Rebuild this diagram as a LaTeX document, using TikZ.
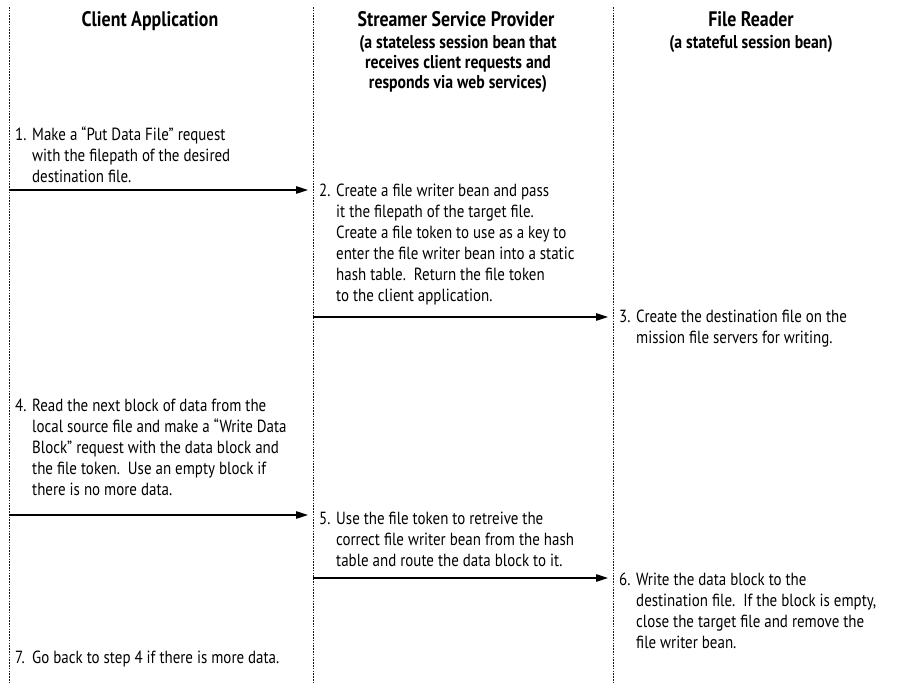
\documentclass[tikz,border=0pt]{standalone}
\usepackage{fontspec}
\setmainfont{PT Sans}[FakeStretch=0.85]
\usetikzlibrary{arrows.meta}
\newcommand{\stp}[2]{\begin{tabular}[t]{@{}l@{}l@{}}\makebox[17pt][l]{#1}&\begin{tabular}[t]{@{}l@{}}#2\end{tabular}\end{tabular}}
\newcommand{\dsp}{\ \ }
\begin{document}
\begin{tikzpicture}[x=1pt,y=-1pt,
  lifeline/.style={line width=1pt,black!90,dash pattern=on 1.6pt off 1.2pt},
  msg/.style={line width=1.1pt,-{Triangle[length=12pt,width=7.5pt]}},
  title/.style={inner sep=0pt,anchor=base,font=\fontsize{21}{25}\selectfont\bfseries},
  sub/.style={inner sep=0pt,anchor=north,align=center,font=\fontsize{18.5}{20}\selectfont\bfseries},
  txt/.style={inner sep=0pt,anchor=base west,font=\fontsize{17.6}{21}\selectfont}]
\useasboundingbox (0,0) rectangle (910,684);
% lifelines
\coordinate (la) at (9,7);  \coordinate (lab) at (9,684);
\coordinate (lb) at (313,7); \coordinate (lbb) at (313,684);
\coordinate (lc) at (613,7); \coordinate (lcb) at (613,684);
\draw[lifeline] (la) -- (lab);
\draw[lifeline] (lb) -- (lbb);
\draw[lifeline] (lc) -- (lcb);
% headers
\node[title] (h1) at (150,27) {Client Application};
\node[title] (h2) at (456,27) {Streamer Service Provider};
\node[title] (h3) at (751,27) {File Reader};
\node[sub] (s2) at (458,35) {(a stateless session bean that\\receives client requests and\\responds via web services)};
\node[sub] (s3) at (751,35) {(a stateful session bean)};
% steps
\node[txt] (t1) at (15,141) {\stp{1.}{Make a “Put Data File” request\\with the filepath of the desired\\destination file.}};
\node[txt] (t2) at (319,197) {\stp{2.}{Create a file writer bean and pass\\it the filepath of the target file.\\Create a file token to use as a key to\\enter the file writer bean into a static\\hash table.\dsp Return the file token\\to the client application.}};
\node[txt] (t3) at (619,323) {\stp{3.}{Create the destination file on the\\mission file servers for writing.}};
\node[txt] (t4) at (15,411) {\stp{4.}{Read the next block of data from the\\local source file and make a “Write Data\\Block” request with the data block and\\the file token.\dsp Use an empty block if\\there is no more data.}};
\node[txt] (t5) at (319,524) {\stp{5.}{Use the file token to retreive the\\correct file writer bean from the hash\\table and route the data block to it.}};
\node[txt] (t6) at (619,585) {\stp{6.}{Write the data block to the\\destination file.\dsp If the block is empty,\\close the target file and remove the\\file writer bean.}};
\node[txt] (t7) at (15,663) {\stp{7.}{Go back to step 4 if there is more data.}};
% messages
\coordinate (m1a) at (9,190);   \coordinate (m1b) at (308,190);
\coordinate (m2a) at (313,317); \coordinate (m2b) at (608,317);
\coordinate (m3a) at (9,515);   \coordinate (m3b) at (308,515);
\coordinate (m4a) at (313,578); \coordinate (m4b) at (608,578);
\draw[msg] (m1a) -- (m1b);
\draw[msg] (m2a) -- (m2b);
\draw[msg] (m3a) -- (m3b);
\draw[msg] (m4a) -- (m4b);
\end{tikzpicture}
\end{document}
